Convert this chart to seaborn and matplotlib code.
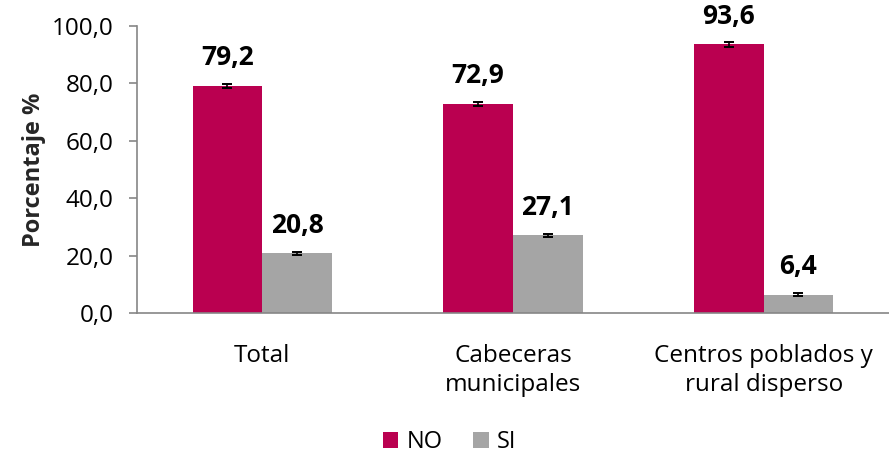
import numpy as np
import pandas as pd
import matplotlib
matplotlib.use("Agg")
import matplotlib.pyplot as plt
import seaborn as sns

# data
categories = ["Total", "Cabeceras\nmunicipales", "Centros poblados y\nrural disperso"]
no_values = [79.2, 72.9, 93.6]
si_values = [20.8, 27.1, 6.4]
no_err = [0.7, 0.8, 0.9]
si_err = [0.5, 0.6, 0.5]
series = ["NO", "SI"]
colors = ["#BA0050", "#A5A5A5"]

df = pd.DataFrame({
    "cat": categories * 2,
    "serie": ["NO"] * 3 + ["SI"] * 3,
    "val": no_values + si_values,
    "err": no_err + si_err,
})

sns.set_style("white")
plt.rcParams["font.family"] = ["Open Sans", "DejaVu Sans"]
plt.rcParams["text.color"] = "black"
plt.rcParams["xtick.color"] = "black"
plt.rcParams["ytick.color"] = "black"

fig = plt.figure(figsize=(8.89, 4.57), dpi=100)
ax = fig.add_axes([0.154, 0.315, 0.846, 0.628])

sns.barplot(data=df, x="cat", y="val", hue="serie", hue_order=series,
            palette=colors, width=0.556, errorbar=None, saturation=1,
            linewidth=0, ax=ax, legend=True)

# error bars + labels, matched to patches
for cont, s in zip(ax.containers, series):
    sub = df[df["serie"] == s]
    xs = [p.get_x() + p.get_width() / 2 for p in cont]
    ax.errorbar(xs, sub["val"].values, yerr=sub["err"].values, fmt="none",
                ecolor="black", elinewidth=1.2, capsize=3.5, capthick=1.4)
    for x, v in zip(xs, sub["val"].values):
        ax.text(x, v + 5, f"{v:.1f}".replace(".", ","), ha="center",
                va="bottom", fontsize=19, fontweight="bold", color="black")

ax.set_ylim(0, 100)
ax.set_yticks(np.arange(0, 101, 20))
ax.set_yticklabels([f"{t:.1f}".replace(".", ",") for t in np.arange(0, 101, 20)])
ax.set_xlim(-0.5, 2.5)
ax.set_xlabel("")
ax.set_ylabel("Porcentaje %", fontsize=17, fontweight="bold", labelpad=4)
ax.tick_params(axis="y", labelsize=17.5, length=6, color="#868686", width=1.2,
               pad=11, left=True)
ax.tick_params(axis="x", labelsize=17.5, length=0, pad=22)
for lbl in ax.get_xticklabels():
    lbl.set_linespacing(1.3)

for side in ["top", "right"]:
    ax.spines[side].set_visible(False)
for side in ["left", "bottom"]:
    ax.spines[side].set_color("#868686")
    ax.spines[side].set_linewidth(1.2)

ax.legend(loc="center", bbox_to_anchor=(0.416, -0.45), ncol=2, frameon=False,
          fontsize=17, handlelength=0.65, handleheight=0.65, handletextpad=0.35,
          columnspacing=1.3)

fig.savefig("out.png", dpi=100)
